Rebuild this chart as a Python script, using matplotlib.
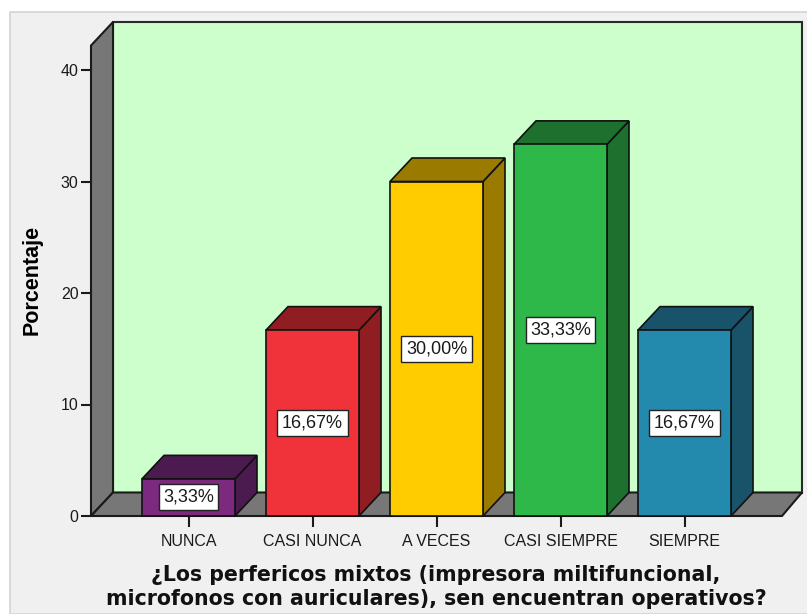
import matplotlib
matplotlib.use("Agg")
import matplotlib.pyplot as plt
from matplotlib.patches import Polygon, Rectangle

# datos
categorias = ["NUNCA", "CASI NUNCA", "A VECES", "CASI SIEMPRE", "SIEMPRE"]
porcentajes = [3.33, 16.67, 30.00, 33.33, 16.67]
etiquetas = ["3,33%", "16,67%", "30,00%", "33,33%", "16,67%"]
colores = ["#7b2a80", "#f0323a", "#ffcc00", "#2fb84a", "#248aad"]
oscuros = ["#4b1a4f", "#8f1d22", "#9a7b00", "#1d702d", "#18536a"]
yticks = [0, 10, 20, 30, 40]

W, H = 807, 614
fig = plt.figure(figsize=(W / 100, H / 100), dpi=100)
fig.patch.set_facecolor("white")
# marco gris de fondo
fig.patches.append(Rectangle((10 / W, 0), 1, 1 - 12 / H, transform=fig.transFigure,
                             facecolor="#f0f0f0", edgecolor="#d4d4d4", lw=1.2, zorder=-5))

# escala en pixeles
px_cat = 124.0   # pixeles por categoria
px_val = 11.15   # pixeles por unidad
x_front0, x_back1, y_base, y_top = 91, 802, 516, 22
c0 = 188.5
DX = 22 / px_cat
DY = 23.5 / px_val

ax = fig.add_axes([x_front0 / W, (H - y_base) / H, (x_back1 - x_front0) / W, (y_base - y_top) / H])
ax.set_xlim((x_front0 - c0) / px_cat, (x_back1 - c0) / px_cat)
ax.set_ylim(0, (y_base - y_top) / px_val)
ax.patch.set_alpha(0)
for s in ax.spines.values():
    s.set_visible(False)

x0 = (x_front0 - c0) / px_cat
x1 = (782 - c0) / px_cat
xb = (x_back1 - c0) / px_cat
top = (y_base - y_top) / px_val

# pared del fondo
ax.add_patch(Polygon([(x0 + DX, DY), (xb, DY), (xb, top), (x0 + DX, top)],
                     facecolor="#ccffcc", edgecolor="#2a2a2a", lw=1.5, clip_on=False, zorder=1))
# pared izquierda
ax.add_patch(Polygon([(x0, 0), (x0 + DX, DY), (x0 + DX, top), (x0, top - DY)],
                     facecolor="#777777", edgecolor="#1a1a1a", lw=1.5, clip_on=False, zorder=2))
# piso
ax.add_patch(Polygon([(x0, 0), (x1, 0), (xb, DY), (x0 + DX, DY)],
                     facecolor="#777777", edgecolor="#1a1a1a", lw=1.5, clip_on=False, zorder=2))

w = 93 / px_cat
for i, (v, lab, c, d) in enumerate(zip(porcentajes, etiquetas, colores, oscuros)):
    l, r = i - w / 2, i + w / 2
    ax.add_patch(Polygon([(r, 0), (r + DX, DY), (r + DX, v + DY), (r, v)],
                         facecolor=d, edgecolor="#111111", lw=1.2, clip_on=False, zorder=3))
    ax.add_patch(Polygon([(l, v), (r, v), (r + DX, v + DY), (l + DX, v + DY)],
                         facecolor=d, edgecolor="#111111", lw=1.2, clip_on=False, zorder=3))
    ax.add_patch(Rectangle((l, 0), w, v, facecolor=c, edgecolor="#111111", lw=1.2,
                           clip_on=False, zorder=4))
    ax.text(i, v / 2, lab, ha="center", va="center", fontsize=13, family="Liberation Sans",
            color="#1a1a1a", zorder=5,
            bbox=dict(boxstyle="square,pad=0.25", facecolor="white", edgecolor="#222222", lw=1))

ax.set_xticks(range(len(categorias)))
ax.set_xticklabels(categorias, fontsize=11.5, family="Liberation Sans", color="#1a1a1a")
ax.set_yticks(yticks)
ax.set_yticklabels([str(t) for t in yticks], fontsize=11.5, family="Liberation Sans", color="#1a1a1a")
ax.tick_params(axis="x", direction="out", length=8, width=1.5, color="#1a1a1a", pad=5)
ax.tick_params(axis="y", direction="out", length=7, width=1.5, color="#1a1a1a", pad=2)

ax.set_ylabel("Porcentaje", fontsize=15.5, fontweight="bold", family="Liberation Sans")
ax.yaxis.set_label_coords(-48 / (x_back1 - x_front0), (y_base - 280) / (y_base - y_top))
fig.text(436 / W, 1 - 587 / H,
         "¿Los perfericos mixtos (impresora miltifuncional,\nmicrofonos con auriculares), sen encuentran operativos?",
         ha="center", va="center", fontsize=14.8, fontweight="bold", family="DejaVu Sans",
         linespacing=1.2, color="#111111")

fig.savefig("out.png", dpi=100, facecolor=fig.get_facecolor())
